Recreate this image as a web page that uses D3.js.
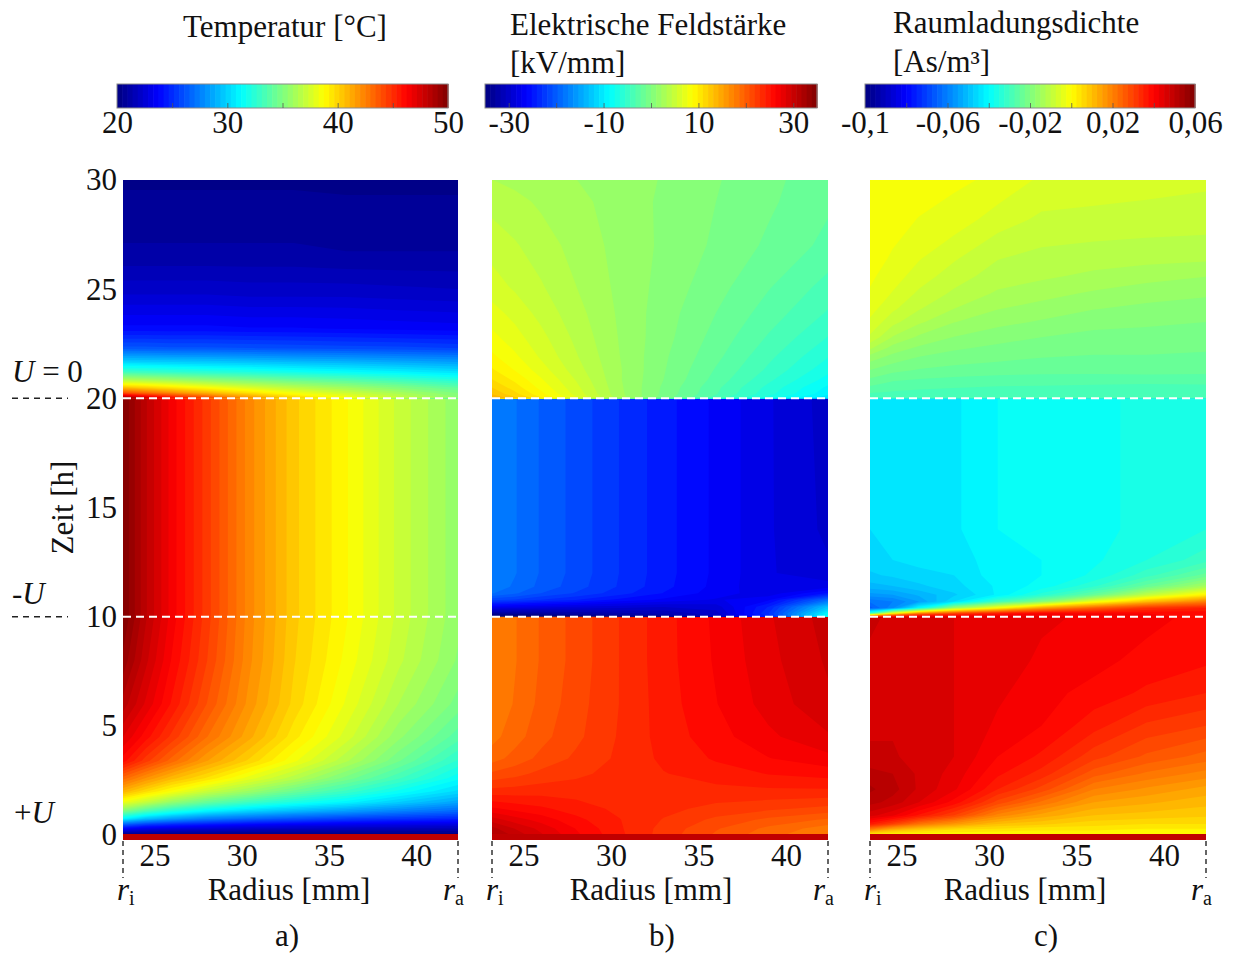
<!DOCTYPE html>
<html>
<head>
<meta charset="utf-8">
<script src="https://cdn.jsdelivr.net/npm/d3@7"></script>
<style>
  body { margin: 0; background: #fff; }
  svg text { font-family: "Liberation Serif", "Times New Roman", serif; fill: #111; }
</style>
</head>
<body>
<svg id="chart" width="1233" height="956"></svg>
<script>
// ---------------------------------------------------------------
// Data: radial position (mm) of every grid column, shared by all fields
// ---------------------------------------------------------------
const radius = [23.2, 24.5, 26, 28, 30.5, 33, 36, 39, 42.4];

// Temperature [°C] – phase +U (0–10 h)
const tempTimes1 = [0, 0.2, 0.45, 0.75, 1.1, 1.5, 2.0, 2.6, 3.4, 4.5, 6, 8, 10];
const tempRows1 = [
  [20, 20, 20, 20, 20, 20, 20, 20, 20],
  [22.5, 22, 21.8, 21.6, 21.4, 21.3, 21.2, 21.1, 21],
  [26, 25, 24.5, 24, 23.5, 23.2, 23, 22.8, 22.6],
  [31, 29.5, 28.5, 27.5, 26.8, 26.2, 25.6, 25.2, 24.8],
  [35, 33.5, 32.2, 31, 30, 29.2, 28.4, 27.6, 26.8],
  [38.2, 37, 35.6, 34.2, 33, 32, 31, 29.8, 28.6],
  [41, 39.8, 38.6, 37.2, 35.8, 34.4, 33, 31.6, 30.2],
  [43.2, 42, 40.8, 39.6, 38, 36.6, 34.8, 33.2, 31.4],
  [46, 44.6, 43.2, 41.6, 40, 38.4, 36.5, 34.6, 32.6],
  [47.2, 46, 44.7, 43, 41.2, 39.4, 37.6, 35.6, 33.8],
  [48.4, 47.1, 45.7, 43.9, 41.8, 40, 38.2, 36.4, 34.8],
  [49.4, 47.8, 46.2, 44.4, 42.1, 40.2, 38.6, 37, 35.4],
  [50, 48.2, 46.5, 44.6, 42.2, 40.3, 38.8, 37.2, 35.6]
];
// Temperature – phase -U (10–20 h)
const tempTimes2 = [10, 20];
const tempRows2 = [
  [50, 48.2, 46.5, 44.6, 42.2, 40.3, 38.8, 37.2, 35.6],
  [50, 48.2, 46.5, 44.6, 42.2, 40.3, 38.8, 37.2, 35.6]
];
// Temperature – phase U = 0 (20–30 h)
const tempTimes3 = [20, 20.25, 20.5, 20.8, 21.2, 21.7, 22.3, 23.2, 24.8, 26.5, 28, 30];
const tempRows3 = [
  [50, 48.2, 46.5, 44.6, 42.2, 40.3, 38.8, 37.2, 35.6],
  [44, 43.2, 42.2, 41, 39.6, 38.4, 37.3, 36.2, 35],
  [40.5, 40, 39.4, 38.6, 37.6, 36.7, 35.9, 35, 34],
  [37, 36.7, 36.3, 35.8, 35.2, 34.6, 34, 33.3, 32.5],
  [33.2, 33, 32.8, 32.5, 32.2, 31.8, 31.4, 31, 30.5],
  [29.8, 29.7, 29.6, 29.5, 29.3, 29.1, 28.9, 28.6, 28.3],
  [26.3, 26.3, 26.2, 26.2, 26.1, 26, 25.9, 25.8, 25.6],
  [23.9, 23.9, 23.9, 23.9, 23.8, 23.8, 23.7, 23.6, 23.5],
  [22.3, 22.3, 22.3, 22.3, 22.2, 22.2, 22.2, 22.1, 22],
  [21.1, 21.1, 21.1, 21.1, 21.1, 21.1, 21, 21, 21],
  [20.7, 20.7, 20.7, 20.7, 20.7, 20.7, 20.6, 20.6, 20.6],
  [20.4, 20.4, 20.4, 20.4, 20.4, 20.4, 20.4, 20.4, 20.4]
];

// Electric field [kV/mm] – phase +U
const fieldTimes1 = [0, 0.3, 0.7, 1.2, 2, 2.8, 3.5, 4.5, 6, 8, 10];
const fieldRows1 = [
  [32, 30.3, 28.6, 26.5, 24.3, 22.5, 20.6, 19.0, 17.5],
  [31.0, 29.5, 28.1, 26.2, 24.2, 22.6, 20.9, 19.4, 18.0],
  [29.0, 27.9, 26.9, 25.5, 24.1, 22.9, 21.6, 20.5, 19.5],
  [26.5, 25.9, 25.4, 24.6, 23.8, 23.3, 22.6, 22.1, 21.5],
  [23.4, 23.5, 23.6, 23.6, 23.6, 23.7, 23.7, 23.8, 23.8],
  [21.0, 21.5, 22.2, 22.7, 23.4, 24.0, 24.6, 25.2, 25.6],
  [19.2, 20.1, 21.1, 22.1, 23.2, 24.3, 25.3, 26.2, 27.0],
  [18.2, 19.2, 20.4, 21.6, 23.1, 24.5, 25.8, 27.1, 28.3],
  [17.6, 18.7, 20.0, 21.4, 23.0, 24.6, 26.2, 27.8, 29.3],
  [17.5, 18.5, 19.8, 21.2, 23.0, 24.7, 26.4, 28.1, 29.7],
  [17.5, 18.5, 19.8, 21.2, 23.0, 24.7, 26.5, 28.3, 30.0]
];
// Electric field – phase -U
const fieldTimes2 = [10, 10.15, 10.45, 10.77, 11.07, 11.37, 12, 14, 20];
const fieldRows2 = [
  [-40, -38, -36.5, -35, -34, -33.5, -31, -24, -8],
  [-33, -33, -33, -32.5, -32, -31.5, -30, -23, -9],
  [-27, -27.5, -28, -28.5, -29, -29.5, -29, -24, -13],
  [-21.5, -22, -23, -24, -25.5, -26.5, -27.5, -26.5, -19],
  [-18.5, -19.5, -20.8, -22, -23.6, -25.2, -26.8, -28, -25],
  [-17.8, -18.8, -20, -21.4, -23.1, -24.8, -26.6, -28.3, -27.8],
  [-17.5, -18.5, -19.8, -21.2, -23.0, -24.7, -26.5, -28.3, -29.3],
  [-17.5, -18.5, -19.8, -21.2, -23.0, -24.7, -26.5, -28.3, -29.8],
  [-17.5, -18.5, -19.8, -21.2, -23.0, -24.7, -26.5, -28.3, -30]
];
// Electric field – phase U = 0
const fieldTimes3 = [20, 20.2, 20.5, 20.85, 21.3, 21.9, 22.8, 23.9, 25.1, 27, 29, 30];
const fieldRows3 = [
  [14.5, 12.5, 10.1, 6.8, 2.7, -0.5, -3.9, -7.2, -11],
  [13, 11.3, 9.1, 6.2, 2.5, -0.3, -3.2, -6.2, -9.5],
  [12, 10.4, 8.4, 5.8, 2.4, -0.2, -3.0, -5.8, -9],
  [11, 9.6, 7.8, 5.4, 2.3, 0, -2.6, -5.2, -8.1],
  [10, 8.7, 7.1, 4.9, 2.3, 0.1, -2.3, -4.6, -7.3],
  [9, 7.9, 6.4, 4.5, 2.2, 0.2, -1.9, -4.1, -6.5],
  [8, 7.0, 5.8, 4.1, 2.1, 0.4, -1.5, -3.4, -5.5],
  [7, 6.2, 5.1, 3.7, 2.0, 0.5, -1.1, -2.7, -4.5],
  [6, 5.3, 4.5, 3.3, 1.9, 0.7, -0.7, -2.1, -3.7],
  [5, 4.5, 3.8, 2.9, 1.8, 0.9, -0.2, -1.3, -2.5],
  [4, 3.6, 3.1, 2.5, 1.7, 0.9, 0, -0.9, -2],
  [3.3, 3.0, 2.7, 2.2, 1.7, 1.0, 0.1, -0.8, -1.8]
];

// Space charge density [As/m³] – phase +U
const chargeTimes1 = [0, 0.25, 0.5, 0.9, 1.5, 2.1, 2.8, 3.6, 5, 6.5, 8, 10];
const chargeRows1 = [
  [0, 0, 0, 0, 0, 0, 0, 0, 0],
  [0.020, 0.012, 0.008, 0.005, 0.004, 0.003, 0.003, 0.002, 0.002],
  [0.036, 0.030, 0.022, 0.016, 0.010, 0.008, 0.006, 0.005, 0.005],
  [0.046, 0.043, 0.037, 0.030, 0.019, 0.014, 0.010, 0.009, 0.008],
  [0.051, 0.049, 0.045, 0.039, 0.029, 0.022, 0.015, 0.013, 0.011],
  [0.053, 0.051, 0.047, 0.043, 0.035, 0.029, 0.020, 0.017, 0.014],
  [0.051, 0.050, 0.047, 0.044, 0.038, 0.034, 0.026, 0.022, 0.019],
  [0.048, 0.048, 0.046, 0.045, 0.040, 0.037, 0.031, 0.027, 0.024],
  [0.047, 0.047, 0.046, 0.045, 0.042, 0.040, 0.036, 0.032, 0.030],
  [0.047, 0.047, 0.046, 0.045, 0.043, 0.041, 0.039, 0.037, 0.035],
  [0.047, 0.047, 0.046, 0.045, 0.044, 0.042, 0.041, 0.039, 0.038],
  [0.048, 0.047, 0.046, 0.045, 0.044, 0.043, 0.042, 0.041, 0.039]
];
// Space charge density – phase -U
const chargeTimes2 = [10, 10.15, 10.4, 10.7, 11.0, 11.4, 11.9, 12.6, 14, 17, 20];
const chargeRows2 = [
  [0.035, 0.042, 0.045, 0.044, 0.044, 0.043, 0.042, 0.041, 0.039],
  [-0.030, 0, 0.020, 0.030, 0.036, 0.040, 0.040, 0.040, 0.039],
  [-0.066, -0.058, -0.040, -0.015, 0, 0.015, 0.025, 0.032, 0.035],
  [-0.062, -0.060, -0.055, -0.045, -0.030, -0.020, -0.003, 0.010, 0.020],
  [-0.056, -0.055, -0.052, -0.048, -0.042, -0.034, -0.024, -0.010, 0.002],
  [-0.051, -0.050, -0.048, -0.046, -0.042, -0.039, -0.033, -0.024, -0.014],
  [-0.048, -0.047, -0.046, -0.045, -0.041, -0.040, -0.037, -0.031, -0.024],
  [-0.046, -0.045, -0.044, -0.044, -0.041, -0.040, -0.038, -0.035, -0.031],
  [-0.045, -0.044, -0.044, -0.043, -0.040, -0.040, -0.038, -0.037, -0.035],
  [-0.044, -0.044, -0.044, -0.043, -0.040, -0.040, -0.038, -0.037, -0.036],
  [-0.044, -0.044, -0.044, -0.043, -0.040, -0.040, -0.038, -0.037, -0.036]
];
// Space charge density – phase U = 0
const chargeTimes3 = [20, 20.3, 20.7, 21.3, 21.9, 22.3, 22.8, 23.5, 24.1, 24.8, 25.6, 26.4, 28.2, 30];
const chargeRows3 = [
  [-0.030, -0.030, -0.030, -0.030, -0.030, -0.030, -0.030, -0.030, -0.029],
  [-0.027, -0.0276, -0.028, -0.0283, -0.0286, -0.0286, -0.0288, -0.029, -0.0285],
  [-0.024, -0.0255, -0.026, -0.0265, -0.0269, -0.027, -0.0272, -0.0273, -0.0273],
  [-0.020, -0.0217, -0.0227, -0.0233, -0.0237, -0.024, -0.024, -0.0238, -0.024],
  [-0.016, -0.0183, -0.020, -0.0211, -0.0218, -0.0224, -0.0227, -0.0227, -0.0229],
  [-0.012, -0.016, -0.018, -0.0196, -0.0206, -0.0213, -0.0219, -0.0219, -0.0222],
  [-0.008, -0.0127, -0.0155, -0.0176, -0.019, -0.020, -0.0208, -0.021, -0.0213],
  [-0.0055, -0.0092, -0.012, -0.0149, -0.0167, -0.0178, -0.0191, -0.0195, -0.020],
  [-0.004, -0.007, -0.0098, -0.0125, -0.0149, -0.016, -0.0174, -0.0181, -0.0187],
  [-0.0028, -0.0052, -0.008, -0.0105, -0.0129, -0.0141, -0.0154, -0.0165, -0.0171],
  [-0.002, -0.0038, -0.0062, -0.0088, -0.0112, -0.012, -0.0131, -0.014, -0.0149],
  [-0.0015, -0.0028, -0.0048, -0.0072, -0.0099, -0.0108, -0.0113, -0.0117, -0.012],
  [-0.0008, -0.0016, -0.0026, -0.0035, -0.0062, -0.008, -0.0083, -0.0085, -0.0087],
  [0, -0.0006, -0.0012, -0.002, -0.003, -0.0055, -0.006, -0.0065, -0.007]
];

// Colour bar ranges, labels and tick marks
const tempRange = [20, 50];
const fieldRange = [-35, 35];
const chargeRange = [-0.1, 0.06];
const tempLabels = [20, 30, 40, 50];
const fieldLabels = [-30, -10, 10, 30];
const chargeLabels = [-0.1, -0.06, -0.02, 0.02, 0.06];
const tempMarks = [25, 30, 35, 40, 45];
const fieldMarks = [-30, -20, -10, 0, 10, 20, 30];
const chargeMarks = [-0.08, -0.06, -0.04, -0.02, 0, 0.02, 0.04];

// Axes
const timeTicks = [0, 5, 10, 15, 20, 25, 30];
const radiusTicks = [25, 30, 35, 40];
const switchTimes = [10, 20];

// ---------------------------------------------------------------
// Drawing
// ---------------------------------------------------------------
const LEVELS = 64;
const svg = d3.select("#chart");

const jet = d3.scaleLinear()
  .domain([0, 0.125, 0.375, 0.625, 0.875, 1])
  .range(["#000080", "#0000ff", "#00ffff", "#ffff00", "#ff0000", "#800000"])
  .clamp(true);
const bandColor = k => jet((Math.max(0, Math.min(LEVELS - 1, k)) + 0.5) / LEVELS);

const y = d3.scaleLinear().domain([0, 30]).range([835, 180]);

const panels = [
  {
    x0: 123, x1: 458, range: tempRange,
    phases: [[tempTimes1, tempRows1], [tempTimes2, tempRows2], [tempTimes3, tempRows3]],
    bar: { x0: 117, x1: 448, labels: tempLabels, marks: tempMarks },
    title: [{ text: "Temperatur [°C]", x: 183, y: 37 }],
    radiusLabelX: 289, letterX: 287, letter: "a)"
  },
  {
    x0: 492, x1: 828, range: fieldRange,
    phases: [[fieldTimes1, fieldRows1], [fieldTimes2, fieldRows2], [fieldTimes3, fieldRows3]],
    bar: { x0: 485, x1: 817, labels: fieldLabels, marks: fieldMarks },
    title: [{ text: "Elektrische Feldstärke", x: 510, y: 35 }, { text: "[kV/mm]", x: 510, y: 73 }],
    radiusLabelX: 651, letterX: 662, letter: "b)"
  },
  {
    x0: 870, x1: 1206, range: chargeRange,
    phases: [[chargeTimes1, chargeRows1], [chargeTimes2, chargeRows2], [chargeTimes3, chargeRows3]],
    bar: { x0: 865, x1: 1195, labels: chargeLabels, marks: chargeMarks },
    title: [{ text: "Raumladungsdichte", x: 893, y: 33 }, { text: "[As/m³]", x: 893, y: 72 }],
    radiusLabelX: 1025, letterX: 1046, letter: "c)"
  }
];

// Filled contour plot of one time phase on the shared radial grid
function drawPhase(g, xs, times, rows, lo, hi) {
  const n = radius.length, m = times.length;
  const values = rows.flat();
  const step = (hi - lo) / LEVELS;
  const base = Math.min(lo, d3.min(values)) - 1;
  const thresholds = d3.range(LEVELS).map(k => k === 0 ? base : lo + k * step);
  const colR = d3.scaleLinear().domain(d3.range(n)).range(radius);
  const rowT = d3.scaleLinear().domain(d3.range(m)).range(times);
  const toScreen = d3.geoTransform({
    point(px, py) {
      const r = colR(Math.max(0, Math.min(n - 1, px - 0.5)));
      const t = rowT(Math.max(0, Math.min(m - 1, py - 0.5)));
      this.stream.point(xs(r), y(t));
    }
  });
  const path = d3.geoPath(toScreen);
  g.append("g").selectAll("path")
    .data(d3.contours().size([n, m]).thresholds(thresholds)(values))
    .join("path")
    .attr("d", path)
    .attr("fill", d => d.value === base ? bandColor(0) : bandColor(Math.round((d.value - lo) / step)));
}

panels.forEach((p, i) => {
  const xs = d3.scaleLinear().domain([radius[0], radius[radius.length - 1]]).range([p.x0, p.x1]);
  const [lo, hi] = p.range;

  // field
  const clipId = "clip" + i;
  svg.append("clipPath").attr("id", clipId)
    .append("rect").attr("x", p.x0).attr("y", y(30)).attr("width", p.x1 - p.x0).attr("height", y(0) - y(30));
  const fg = svg.append("g").attr("clip-path", `url(#${clipId})`);
  p.phases.forEach(([times, rows]) => drawPhase(fg, xs, times, rows, lo, hi));

  // switching instants
  svg.append("g").selectAll("line").data(switchTimes).join("line")
    .attr("x1", p.x0).attr("x2", p.x1)
    .attr("y1", d => y(d)).attr("y2", d => y(d))
    .attr("stroke", "#fff").attr("stroke-width", 2).attr("stroke-dasharray", "8,5");

  // conductor strip along the bottom edge
  svg.append("rect").attr("x", p.x0).attr("y", y(0) - 1).attr("width", p.x1 - p.x0).attr("height", 6)
    .attr("fill", "#c00000");

  // radius axis
  const xAxis = svg.append("g").attr("transform", `translate(0,${y(0)})`)
    .call(d3.axisBottom(xs).tickValues(radiusTicks).tickSize(0).tickPadding(9).tickFormat(d3.format("d")));
  xAxis.select(".domain").remove();
  xAxis.selectAll("text").attr("font-size", 31).attr("font-family", null).attr("fill", "#111");

  // inner / outer radius markers
  svg.append("g").selectAll("line").data([p.x0, p.x1]).join("line")
    .attr("x1", d => d).attr("x2", d => d).attr("y1", y(0) + 6).attr("y2", 878)
    .attr("stroke", "#333").attr("stroke-width", 1.5).attr("stroke-dasharray", "5,4");
  const ri = svg.append("text").attr("x", p.x0 - 6).attr("y", 900).attr("font-size", 31);
  ri.append("tspan").attr("font-style", "italic").text("r");
  ri.append("tspan").attr("font-size", 20).attr("dy", 5).text("i");
  const ra = svg.append("text").attr("x", p.x1 - 15).attr("y", 900).attr("font-size", 31);
  ra.append("tspan").attr("font-style", "italic").text("r");
  ra.append("tspan").attr("font-size", 20).attr("dy", 5).text("a");

  svg.append("text").attr("x", p.radiusLabelX).attr("y", 900).attr("text-anchor", "middle")
    .attr("font-size", 31).text("Radius [mm]");
  svg.append("text").attr("x", p.letterX).attr("y", 946).attr("text-anchor", "middle")
    .attr("font-size", 31).text(p.letter);

  // colour bar
  const cb = p.bar;
  const cbScale = d3.scaleLinear().domain([lo, hi]).range([cb.x0, cb.x1]);
  const cbW = (cb.x1 - cb.x0) / LEVELS;
  svg.append("g").selectAll("rect").data(d3.range(LEVELS)).join("rect")
    .attr("x", k => cb.x0 + k * cbW).attr("y", 84)
    .attr("width", cbW + 0.6).attr("height", 24)
    .attr("fill", k => bandColor(k));
  svg.append("rect").attr("x", cb.x0).attr("y", 84).attr("width", cb.x1 - cb.x0).attr("height", 24)
    .attr("fill", "none").attr("stroke", "#8a8a8a").attr("stroke-width", 1);
  const marks = svg.append("g").attr("transform", "translate(0,108)")
    .call(d3.axisBottom(cbScale).tickValues(cb.marks).tickSize(-5).tickFormat(""));
  marks.select(".domain").remove();
  marks.selectAll("line").attr("stroke", "#555").attr("stroke-opacity", 0.8);
  const labels = svg.append("g").attr("transform", "translate(0,108)")
    .call(d3.axisBottom(cbScale).tickValues(cb.labels).tickSize(0).tickPadding(3)
      .tickFormat(d => String(d).replace(".", ",")));
  labels.select(".domain").remove();
  labels.selectAll("text").attr("font-size", 31).attr("font-family", null).attr("fill", "#111");

  p.title.forEach(t => svg.append("text").attr("x", t.x).attr("y", t.y).attr("font-size", 31).text(t.text));
});

// time axis
const yAxis = svg.append("g").attr("transform", `translate(${panels[0].x0},0)`)
  .call(d3.axisLeft(y).tickValues(timeTicks).tickSize(0).tickPadding(6));
yAxis.select(".domain").remove();
yAxis.selectAll("text").attr("font-size", 31).attr("font-family", null).attr("fill", "#111");

svg.append("text").attr("transform", `translate(73,${y(15)}) rotate(-90)`)
  .attr("text-anchor", "middle").attr("font-size", 31).text("Zeit [h]");

// voltage state annotations
svg.append("g").selectAll("line").data(switchTimes).join("line")
  .attr("x1", 12).attr("x2", 68).attr("y1", d => y(d)).attr("y2", d => y(d))
  .attr("stroke", "#222").attr("stroke-width", 1.5).attr("stroke-dasharray", "6,5");

const u0 = svg.append("text").attr("x", 12).attr("y", 382).attr("font-size", 31);
u0.append("tspan").attr("font-style", "italic").text("U");
u0.append("tspan").text(" = 0");
const uMinus = svg.append("text").attr("x", 12).attr("y", 604).attr("font-size", 31);
uMinus.append("tspan").text("-");
uMinus.append("tspan").attr("font-style", "italic").text("U");
const uPlus = svg.append("text").attr("x", 14).attr("y", 823).attr("font-size", 31);
uPlus.append("tspan").text("+");
uPlus.append("tspan").attr("font-style", "italic").text("U");
</script>
</body>
</html>
